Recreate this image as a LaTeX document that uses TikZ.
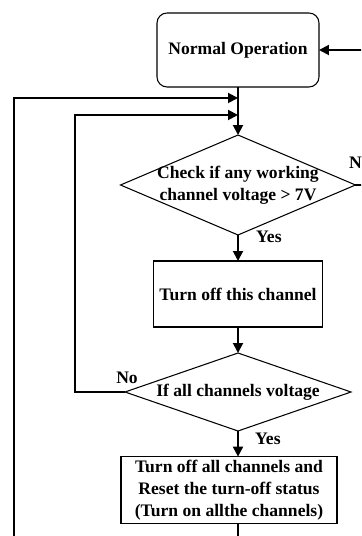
\documentclass[tikz,border=0pt]{standalone}
\usepackage{fontspec}
\setmainfont{Liberation Serif}
\usetikzlibrary{shapes.geometric,arrows.meta}
\begin{document}
\begin{tikzpicture}[x=0.02cm,y=-0.02cm,
  font=\fontsize{10}{12.4}\selectfont\bfseries,
  flow/.style={line width=1.1pt,-{Triangle[length=0.2cm,width=0.2cm]}},
  procbox/.style={draw,line width=0.6pt,inner sep=2pt,outer sep=0pt,align=center},
  decision/.style={draw,diamond,line width=0.6pt,inner sep=0pt,outer sep=0pt}]
\useasboundingbox (0,0) rectangle (361,536);
\clip (0,0) rectangle (361,536);

\node[procbox,rounded corners=0.2cm,minimum width=3.24cm,minimum height=1.48cm] (normal) at (238,50) {Normal Operation};
\node[decision,minimum width=4.7cm,minimum height=2cm,
  label={[align=center]center:{Check if any working\\channel voltage > 7V}}] (check) at (238,185) {};
\node[procbox,minimum width=3.38cm,minimum height=1.32cm] (turnoff) at (238,294) {Turn off this channel};
\node[decision,minimum width=4.52cm,minimum height=1.56cm,
  label={[align=center]center:{If all channels voltage}}] (allv) at (238,392) {};
\node[procbox,minimum width=4.32cm,minimum height=1.3cm] (reset) at (229,490) {Turn off all channels and\\Reset the turn-off status\\(Turn on allthe channels)};

\coordinate (join1) at (238,98);
\coordinate (join2) at (238,115);

\draw[flow] (normal.south) -- (check.north);
\draw[flow] (check.south) -- (turnoff.north);
\draw[flow] (turnoff.south) -- (allv.north);
\draw[flow] (allv.south) -- (allv.south |- reset.north);
\draw[flow] (allv.west) -- ++(-50,0) |- (join2);
\draw[flow] (reset.south -| allv.south) |- (14,570) |- (join1);
\draw[flow] (check.east) -- ++(40,0) |- (normal.east);

\node[anchor=west] (yes1) at (250,237) {Yes};
\node[anchor=west] (yes2) at (249,439) {Yes};
\node[anchor=west] (no1) at (343,163) {No};
\node (no2) at (127,378) {No};
\end{tikzpicture}
\end{document}
